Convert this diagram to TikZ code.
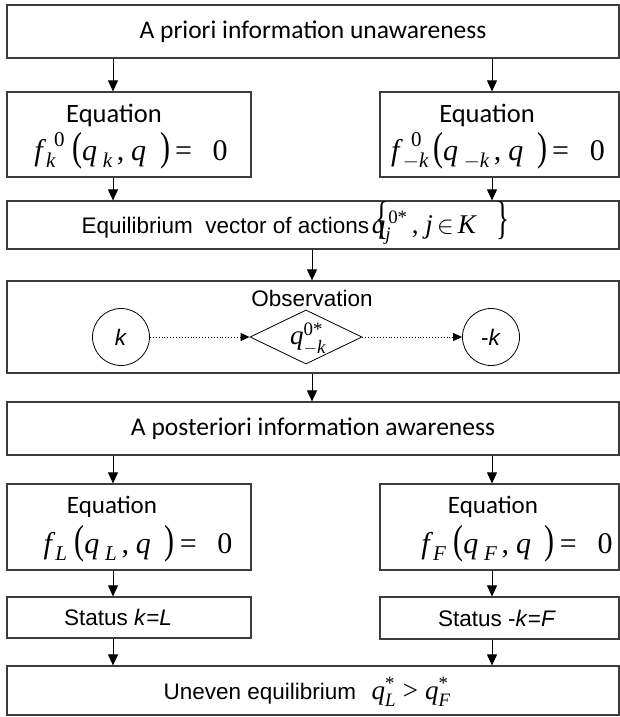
\documentclass[tikz,border=0pt]{standalone}
\usepackage{fontspec}
\usepackage{amsmath}
\usepackage{graphicx}
\usetikzlibrary{arrows.meta,shapes.geometric}
\newfontfamily\calfnt{Carlito}
\newfontfamily\arifnt{Liberation Sans}
\newfontfamily\tmsfnt{Liberation Serif}
\newcommand{\vi}[1]{\text{\tmsfnt\itshape #1}}
\newcommand{\vr}[1]{\text{\tmsfnt\upshape #1}}
\newcommand{\bp}[1]{\text{\tmsfnt\upshape\scalebox{1}[1.35]{#1}}}
\newcommand{\bb}[1]{\text{\tmsfnt\upshape\scalebox{1}[1.7]{#1}}}
\definecolor{bord}{HTML}{3C3C3C}
\tikzset{
  box/.style={draw=bord, line width=1.2pt, rectangle, inner sep=0pt},
  arr/.style={line width=0.9pt, -{Triangle[width=10pt,length=11pt]}},
  darr/.style={line width=0.9pt, dotted, -{Triangle[width=8pt,length=9pt]}},
  calt/.style={font=\calfnt\fontsize{25.5}{30}\selectfont},
  calq/.style={font=\calfnt\fontsize{26.5}{30}\selectfont},
  calb/.style={font=\calfnt\fontsize{25}{30}\selectfont},
  art/.style={font=\arifnt\fontsize{22.5}{26}\selectfont},
  frm/.style={font=\tmsfnt\fontsize{30}{34}\selectfont},
  frs/.style={font=\tmsfnt\fontsize{27}{30}\selectfont},
}
\begin{document}
\begin{tikzpicture}[x=1pt,y=-1pt]
\useasboundingbox (0,0) rectangle (620,717);
\fill[white] (0,0) rectangle (620,717);
\coordinate (xl) at (113,0);
\coordinate (xr) at (492,0);
\coordinate (xc) at (312,0);
% boxes
\node[box, minimum width=612pt, minimum height=53pt, calt] (top) at (313,31.5) {A priori information unawareness};
\node[box, minimum width=244pt, minimum height=85pt] (eq1) at (129,134.5) {};
\node[box, minimum width=239pt, minimum height=85pt] (eq2) at (499.5,134.5) {};
\node[box, minimum width=612pt, minimum height=48pt] (equ) at (313,225) {};
\node[box, minimum width=612pt, minimum height=92pt] (obs) at (313,327) {};
\node[box, minimum width=612pt, minimum height=53pt, calt] (post) at (313,428.5) {A posteriori information awareness};
\node[box, minimum width=244pt, minimum height=86pt] (eq3) at (129,527) {};
\node[box, minimum width=239pt, minimum height=86pt] (eq4) at (499.5,527) {};
\node[box, minimum width=244pt, minimum height=41pt] (st1) at (129,617.5) {};
\node[box, minimum width=239pt, minimum height=42pt] (st2) at (499.5,618) {};
\node[box, minimum width=612pt, minimum height=49pt] (unev) at (313,690.5) {};
% status texts
\node[art] (s1) at (118,617.5) {Status \textit{k}=\textit{L}};
\node[art] (s2) at (497,618) {Status -\textit{k}=\textit{F}};
% texts in equation boxes
\node[calq, anchor=base] (t1) at (114,122) {Equation};
\node[calq, anchor=base] (t2) at (487,122) {Equation};
\node[frm, anchor=base] (f1) at (131,160) {$\vi{f}_{\,\vi{k}}^{\;\;\vr{0}}\;\bp{(}\vi{q}_{\;\vi{k}}\,\vr{,}\;\vi{q}\;\;\bp{)}\vr{\,=}\;\;\;\vr{0}$};
\node[frm, anchor=base] (f2) at (498,160) {$\vi{f}_{\,-\vi{k}}^{\;\;\vr{0}}\,\bp{(}\vi{q}_{\;-\vi{k}}\,\vr{,}\;\vi{q}\;\;\bp{)}\vr{\,=}\;\;\;\vr{0}$};
\node[calb, anchor=base] (t3) at (112,513) {Equation};
\node[calb, anchor=base] (t4) at (493,513) {Equation};
\node[frm, anchor=base] (f3) at (138,553) {$\vi{f}_{\,\vi{L}}\;\bp{(}\vi{q}_{\;\vi{L}}\,\vr{,}\;\vi{q}\;\;\bp{)}\vr{\,=}\;\;\;\vr{0}$};
\node[frm, anchor=base] (f4) at (517,553) {$\vi{f}_{\,\vi{F}}\;\bp{(}\vi{q}_{\;\vi{F}}\,\vr{,}\;\vi{q}\;\;\bp{)}\vr{\,=}\;\;\;\vr{0}$};
% equilibrium text
\node[art, anchor=base west] (et) at (78,233) {Equilibrium\ \ vector of actions};
\node[frs, anchor=base west] (ef) at (372,233) {$\bb{\{}\!\!\!\!\vi{q}_{\vi{j}}^{\,\vr{0*}}\,\vr{,}\;\vi{j}\,{\in}\,\vi{K}\;\;\;\bb{\}}$};
% observation
\node[art] (ot) at (312,298) {Observation};
\node[draw, circle, line width=0.8pt, minimum size=57pt, inner sep=0pt, art] (ck) at (121,337) {\textit{k}};
\node[draw, circle, line width=0.8pt, minimum size=57pt, inner sep=0pt, art] (cmk) at (491,337) {-\textit{k}};
\node[draw, diamond, line width=0.8pt, minimum width=112pt, minimum height=54pt, inner sep=0pt] (dm) at (306,337) {};
\node[frs] (dq) at (308,339) {$\vi{q}_{-\vi{k}}^{\vr{0*}}$};
\draw[darr] (ck.east) -- (dm.west);
\draw[darr] (dm.east) -- (cmk.west);
% uneven
\node[art, anchor=base west] (ut) at (160,699) {Uneven equilibrium};
\node[frs, anchor=base west] (uf) at (368,699) {$\vi{q}_{\vi{L}}^{\vr{*}}\;\vr{>}\;\vi{q}_{\vi{F}}^{\vr{*}}$};
% arrows
\draw[arr] (top.south -| xl) -- (eq1.north -| xl);
\draw[arr] (top.south -| xr) -- (eq2.north -| xr);
\draw[arr] (eq1.south -| xl) -- (equ.north -| xl);
\draw[arr] (eq2.south -| xr) -- (equ.north -| xr);
\draw[arr] (equ.south -| xc) -- (obs.north -| xc);
\draw[arr] (obs.south -| xc) -- (post.north -| xc);
\draw[arr] (post.south -| xl) -- (eq3.north -| xl);
\draw[arr] (post.south -| xr) -- (eq4.north -| xr);
\draw[arr] (eq3.south -| xl) -- (st1.north -| xl);
\draw[arr] (eq4.south -| xr) -- (st2.north -| xr);
\draw[arr] (st1.south -| xl) -- (unev.north -| xl);
\draw[arr] (st2.south -| xr) -- (unev.north -| xr);
\end{tikzpicture}
\end{document}
